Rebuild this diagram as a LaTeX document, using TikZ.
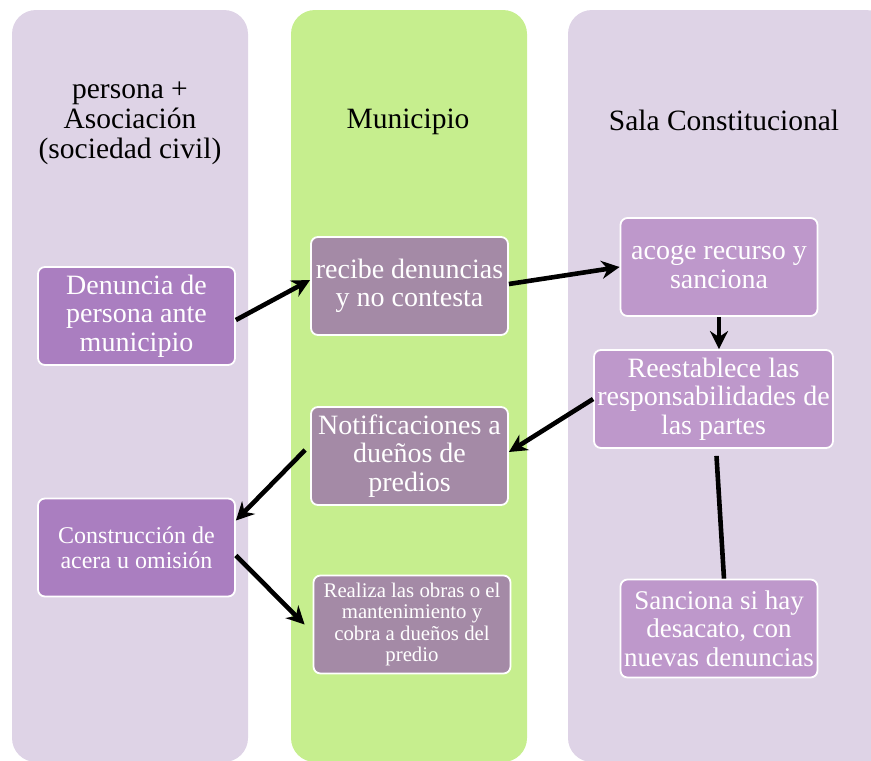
\documentclass[tikz,border=0pt]{standalone}
\usepackage{fontspec}
\setmainfont{Liberation Serif}
\usetikzlibrary{
  arrows,
  calc,
  positioning,
  shapes,
  arrows.meta
}
\definecolor{lanebg}{HTML}{DED3E6}
\definecolor{lanegreen}{HTML}{C6EE8E}
\definecolor{boxpurple}{HTML}{AA7EC0}
\definecolor{boxmauve}{HTML}{A48AA6}
\definecolor{boxlilac}{HTML}{BE98CB}

\begin{document}
\begin{tikzpicture}[x=1pt, y=-1pt,
  lane/.style={rounded corners=24pt},
  lanetitle/.style={align=center, font=\fontsize{29.5}{30}\selectfont},
  card/.style={draw=white, line width=1.8pt, rounded corners=7pt,
    text=white, align=center, inner sep=1pt,
    minimum width=197pt, minimum height=98pt,
    font=\fontsize{28}{28.5}\selectfont},
  flow/.style={->,>={Stealth[length=18pt,width=18pt]},line width=4.6pt}
  ]
  \useasboundingbox (0,0) rectangle (871,761);
  % lanes
  \fill[lane, lanebg] (12,10) rectangle (248,762);
  \fill[lane, lanegreen] (291,10) rectangle (527,762);
  \fill[lane, lanebg] (568,10) rectangle (890,762);
  \node[lanetitle] (Persona) at (130,123) {persona +\\Asociación\\(sociedad civil)};
  \node[lanetitle] (Municipio) at (408,122) {Municipio};
  \node[lanetitle] (Sala) at (724,120) {Sala Constitucional};
  % boxes
  \node[card, fill=boxpurple] (Denuncia) at (136.5,316) {Denuncia de\\persona ante\\municipio};
  \node[card, fill=boxmauve] (Recibe) at (409.5,286) {recibe denuncias\\y no contesta};
  \node[card, fill=boxlilac] (Acoge) at (719,267) {acoge recurso y\\sanciona};
  \node[card, fill=boxlilac, minimum width=239pt] (Reestablece) at (713.5,399)
    {Reestablece las\\responsabilidades de\\las partes};
  \node[card, fill=boxmauve] (Notifica) at (409.5,456) {Notificaciones a\\dueños de\\predios};
  \node[card, fill=boxpurple, font=\fontsize{24}{25}\selectfont] (Construye) at (136.5,547.5)
    {Construcción de\\acera u omisión};
  \node[card, fill=boxmauve, font=\fontsize{20.8}{21.5}\selectfont] (Realiza) at (412,624.5)
    {Realiza las obras o el\\mantenimiento y\\cobra a dueños del\\predio};
  \node[card, fill=boxlilac, font=\fontsize{27}{28.5}\selectfont] (Sanciona) at (719,628.5)
    {Sanciona si hay\\desacato, con\\nuevas denuncias};
  % connectors
  \draw[flow] ([yshift=-4pt]Denuncia.east) -- ([yshift=6pt]Recibe.west);
  \draw[flow] ([yshift=2pt]Recibe.east) -- (Acoge.west);
  \draw[flow] (Acoge.south) -- (Acoge.south |- Reestablece.north);
  \draw[flow] (Reestablece.west) -- ([yshift=4pt]Notifica.east);
  \draw[flow] ([xshift=-5pt,yshift=6pt]Notifica.west) -- ([yshift=27pt]Construye.east);
  \draw[flow] ([yshift=-8pt]Construye.east) -- ([xshift=-8pt]Realiza.west);
  \draw[line width=4.6pt] ([xshift=3pt,yshift=-7pt]Reestablece.south) -- ([xshift=5pt]Sanciona.north);
\end{tikzpicture}
\end{document}
